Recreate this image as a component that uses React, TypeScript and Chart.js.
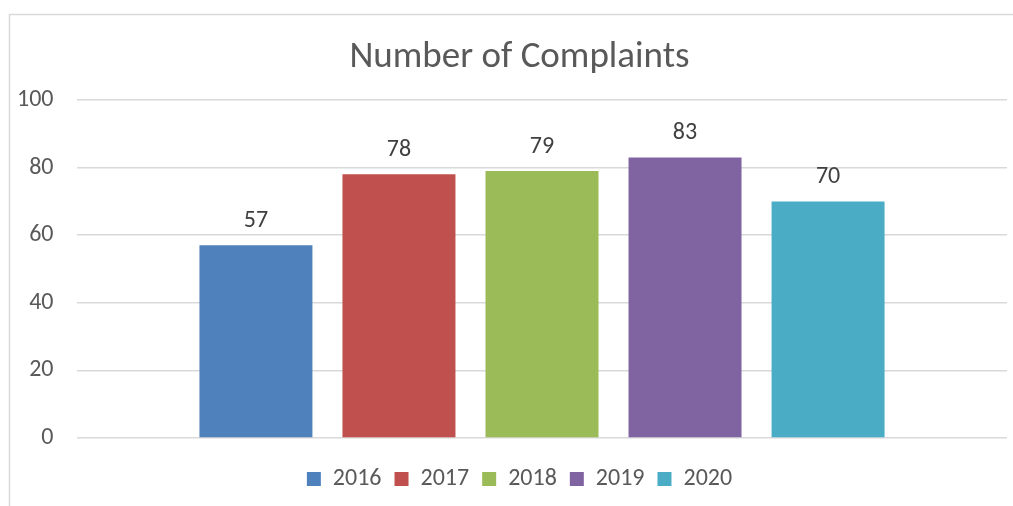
import React, { useEffect, useRef } from "react";
import { Chart, registerables } from "chart.js";

Chart.register(...registerables);

const categories = ["Number of Complaints"];
const seriesNames = ["2016", "2017", "2018", "2019", "2020"];
const seriesValues = [57, 78, 79, 83, 70];
const seriesColors = ["#4F81BD", "#C0504D", "#9BBB59", "#8064A2", "#4BACC6"];
const yTicks = [0, 20, 40, 60, 80, 100];

const FONT = "Carlito, Lato, 'Liberation Sans', sans-serif";

const frame = {
  id: "frame",
  beforeDraw(chart: any) {
    const ctx = chart.ctx;
    ctx.save();
    ctx.strokeStyle = "#D9D9D9";
    ctx.lineWidth = 1.5;
    ctx.beginPath();
    ctx.moveTo(9.5, 600);
    ctx.lineTo(9.5, 14.5);
    ctx.lineTo(1100, 14.5);
    ctx.stroke();
    ctx.restore();
  },
};

const valueLabels = {
  id: "valueLabels",
  afterDatasetsDraw(chart: any) {
    const ctx = chart.ctx;
    ctx.save();
    ctx.fillStyle = "#404040";
    ctx.font = `24px ${FONT}`;
    ctx.textAlign = "center";
    ctx.textBaseline = "alphabetic";
    chart.data.datasets.forEach((ds: any, i: number) => {
      const meta = chart.getDatasetMeta(i);
      meta.data.forEach((bar: any, j: number) => {
        ctx.fillText(String(ds.data[j]), bar.x, bar.y - 18);
      });
    });
    ctx.restore();
  },
};

export default function App() {
  const ref = useRef<HTMLCanvasElement>(null);
  useEffect(() => {
    if (!ref.current) return;
    const chart = new Chart(ref.current, {
      type: "bar",
      data: {
        labels: categories,
        datasets: seriesNames.map((name, i) => ({
          label: name,
          data: [seriesValues[i]],
          backgroundColor: seriesColors[i],
          borderWidth: 0,
        })),
      },
      options: {
        animation: false,
        responsive: true,
        maintainAspectRatio: false,
        layout: { padding: { top: 0, right: 6, bottom: 5, left: 32 } },
        datasets: { bar: { categoryPercentage: 0.769, barPercentage: 0.79 } } as any,
        plugins: {
          title: {
            display: true,
            text: "Number of Complaints",
            color: "#595959",
            font: { family: FONT, size: 37, weight: "normal" as any, lineHeight: 1.2 },
            padding: { top: 36, bottom: 19.6 },
          },
          legend: {
            position: "bottom",
            labels: {
              color: "#595959",
              font: { family: FONT, size: 24 },
              boxWidth: 14,
              boxHeight: 14,
              padding: 13,
            },
          },
          tooltip: { enabled: false },
        },
        scales: {
          x: {
            ticks: { display: false },
            grid: { display: false },
            border: { display: false },
            afterFit(scale: any) {
              scale.height = 16;
            },
          },
          y: {
            min: 0,
            max: 100,
            afterBuildTicks(scale: any) {
              scale.ticks = yTicks.map((v) => ({ value: v }));
            },
            ticks: {
              color: "#595959",
              font: { family: FONT, size: 24 },
              mirror: true,
              crossAlign: "far",
              padding: -60,
            },
            grid: { color: "#D9D9D9", lineWidth: 1.5, drawTicks: false },
            border: { display: false },
            afterFit(scale: any) {
              scale.width = 45;
            },
          },
        },
      },
      plugins: [frame, valueLabels],
    });
    return () => chart.destroy();
  }, []);
  return (
    <div style={{ position: "fixed", left: 0, top: 0, width: 1013, height: 506, background: "#fff" }}>
      <canvas ref={ref} />
    </div>
  );
}
